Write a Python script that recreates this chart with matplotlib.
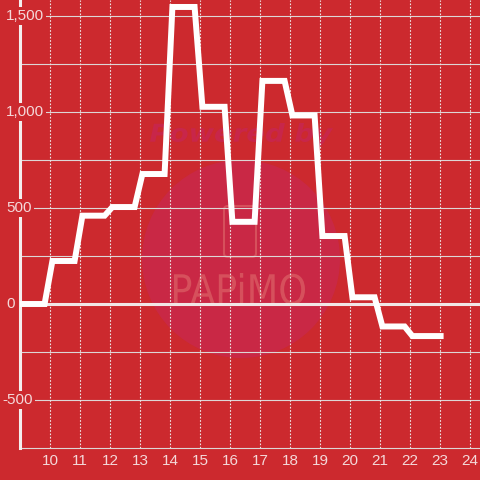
import matplotlib
matplotlib.use("Agg")
import matplotlib.pyplot as plt
from matplotlib.textpath import TextPath
from matplotlib.patches import PathPatch, Circle, FancyBboxPatch
from matplotlib.font_manager import FontProperties
from matplotlib.transforms import Affine2D

# ---- data ----
hours = [9, 10, 11, 12, 13, 14, 15, 16, 17, 18, 19, 20, 21, 22, 23]
values = [0, 224, 460, 505, 677, 1547, 1027, 428, 1162, 982, 354, 35, -117, -167, -167]
x_ticks = [10, 11, 12, 13, 14, 15, 16, 17, 18, 19, 20, 21, 22, 23, 24]
y_ticks = [-500, 0, 500, 1000, 1500]
y_tick_labels = ["-500", "0", "500", "1,000", "1,500"]

BG = "#cc292e"
W = H = 480

fig = plt.figure(figsize=(4.8, 4.8), dpi=100)
fig.patch.set_facecolor(BG)
ax = fig.add_axes([20 / W, 32 / H, 460 / W, 448 / H])
ax.set_facecolor(BG)
ax.set_xlim(9, 9 + 460 / 30)
ax.set_ylim(-750, 1500 + 16 / 96 * 500)

# step-like line built from hourly values
xs, ys = [], []
n = len(hours)
for i, (h, v) in enumerate(zip(hours, values)):
    if i == 0:
        xs += [h, h + 0.82]
        ys += [v, v]
    elif i == n - 1:
        xs += [h + 0.12]
        ys += [v]
    else:
        xs += [h + 0.08, h + 0.82]
        ys += [v, v]

# watermark (figure pixel coordinates, top-origin)
def px(x, y):
    return (x / W, 1 - y / H)

circ = Circle(px(241, 259), 99 / W, transform=fig.transFigure, fc="#c92845",
              ec="none", zorder=0.6)
ax.add_patch(circ)

def place_text(s, x0, y0, x1, y1, prop, color, z):
    tp = TextPath((0, 0), s, size=1, prop=prop)
    bb = tp.get_extents()
    sx = (x1 - x0) / bb.width
    sy = (y1 - y0) / bb.height
    tr = (Affine2D().translate(-bb.x0, -bb.y0).scale(sx, sy)
          .translate(x0, H - y1).scale(1 / W, 1 / H) + fig.transFigure)
    p = PathPatch(tp, transform=tr, fc=color, ec="none", zorder=z)
    ax.add_patch(p)

place_text("Powered by", 150, 123, 333, 147,
           FontProperties(family="DejaVu Sans", weight="bold", style="italic"),
           "#c8264a", 0.65)
place_text("PAPiMO", 174, 273, 305, 305,
           FontProperties(family="DejaVu Sans", weight="normal"),
           "#d6505c", 0.7)
phone = FancyBboxPatch(px(224, 257), 32 / W, 51 / H,
                       boxstyle="round,pad=0,rounding_size=0.008",
                       transform=fig.transFigure, fc="none", ec="#d6505c",
                       lw=1.5, zorder=0.7)
ax.add_patch(phone)

# grid
for yv in range(-500, 1501, 250):
    if yv == 0:
        continue
    ax.axhline(yv, color="#ddd6d6", lw=0.8, zorder=1)
for xv in x_ticks:
    ax.axvline(xv, color="#eee6e6", lw=0.8, dashes=(1.5, 1.5), zorder=1)
ax.axhline(0, color="#f1e6e6", lw=2.2, zorder=1.5)

ax.plot(xs, ys, color="white", lw=4.3, solid_joinstyle="miter",
        solid_capstyle="butt", zorder=4)

# spines
for s in ["top", "right"]:
    ax.spines[s].set_visible(False)
ax.spines["left"].set_color("#f4eeee")
ax.spines["left"].set_linewidth(2.2)
ax.spines["left"].set_zorder(3)
ax.spines["bottom"].set_color("#ddd6d6")
ax.spines["bottom"].set_linewidth(0.8)
ax.set_xticks([])
ax.set_yticks([])

lab_color = "#f4d8d9"
font = "Liberation Sans"
for v, lab in zip(y_ticks, y_tick_labels):
    xpix = 2 if lab.startswith("-") else 6
    ax.text((xpix - 20) / 460, v, lab, transform=ax.get_yaxis_transform(),
            ha="left", va="center", fontsize=11, family=font, color=lab_color,
            bbox=dict(fc=BG, ec="none", pad=1.5), zorder=5, clip_on=False)
for xv in x_ticks:
    ax.text(xv, -13 / 448, str(xv), transform=ax.get_xaxis_transform(),
            ha="center", va="center", fontsize=11, family=font, color=lab_color,
            zorder=5, clip_on=False)

fig.savefig("out.png", dpi=100, facecolor=BG)
